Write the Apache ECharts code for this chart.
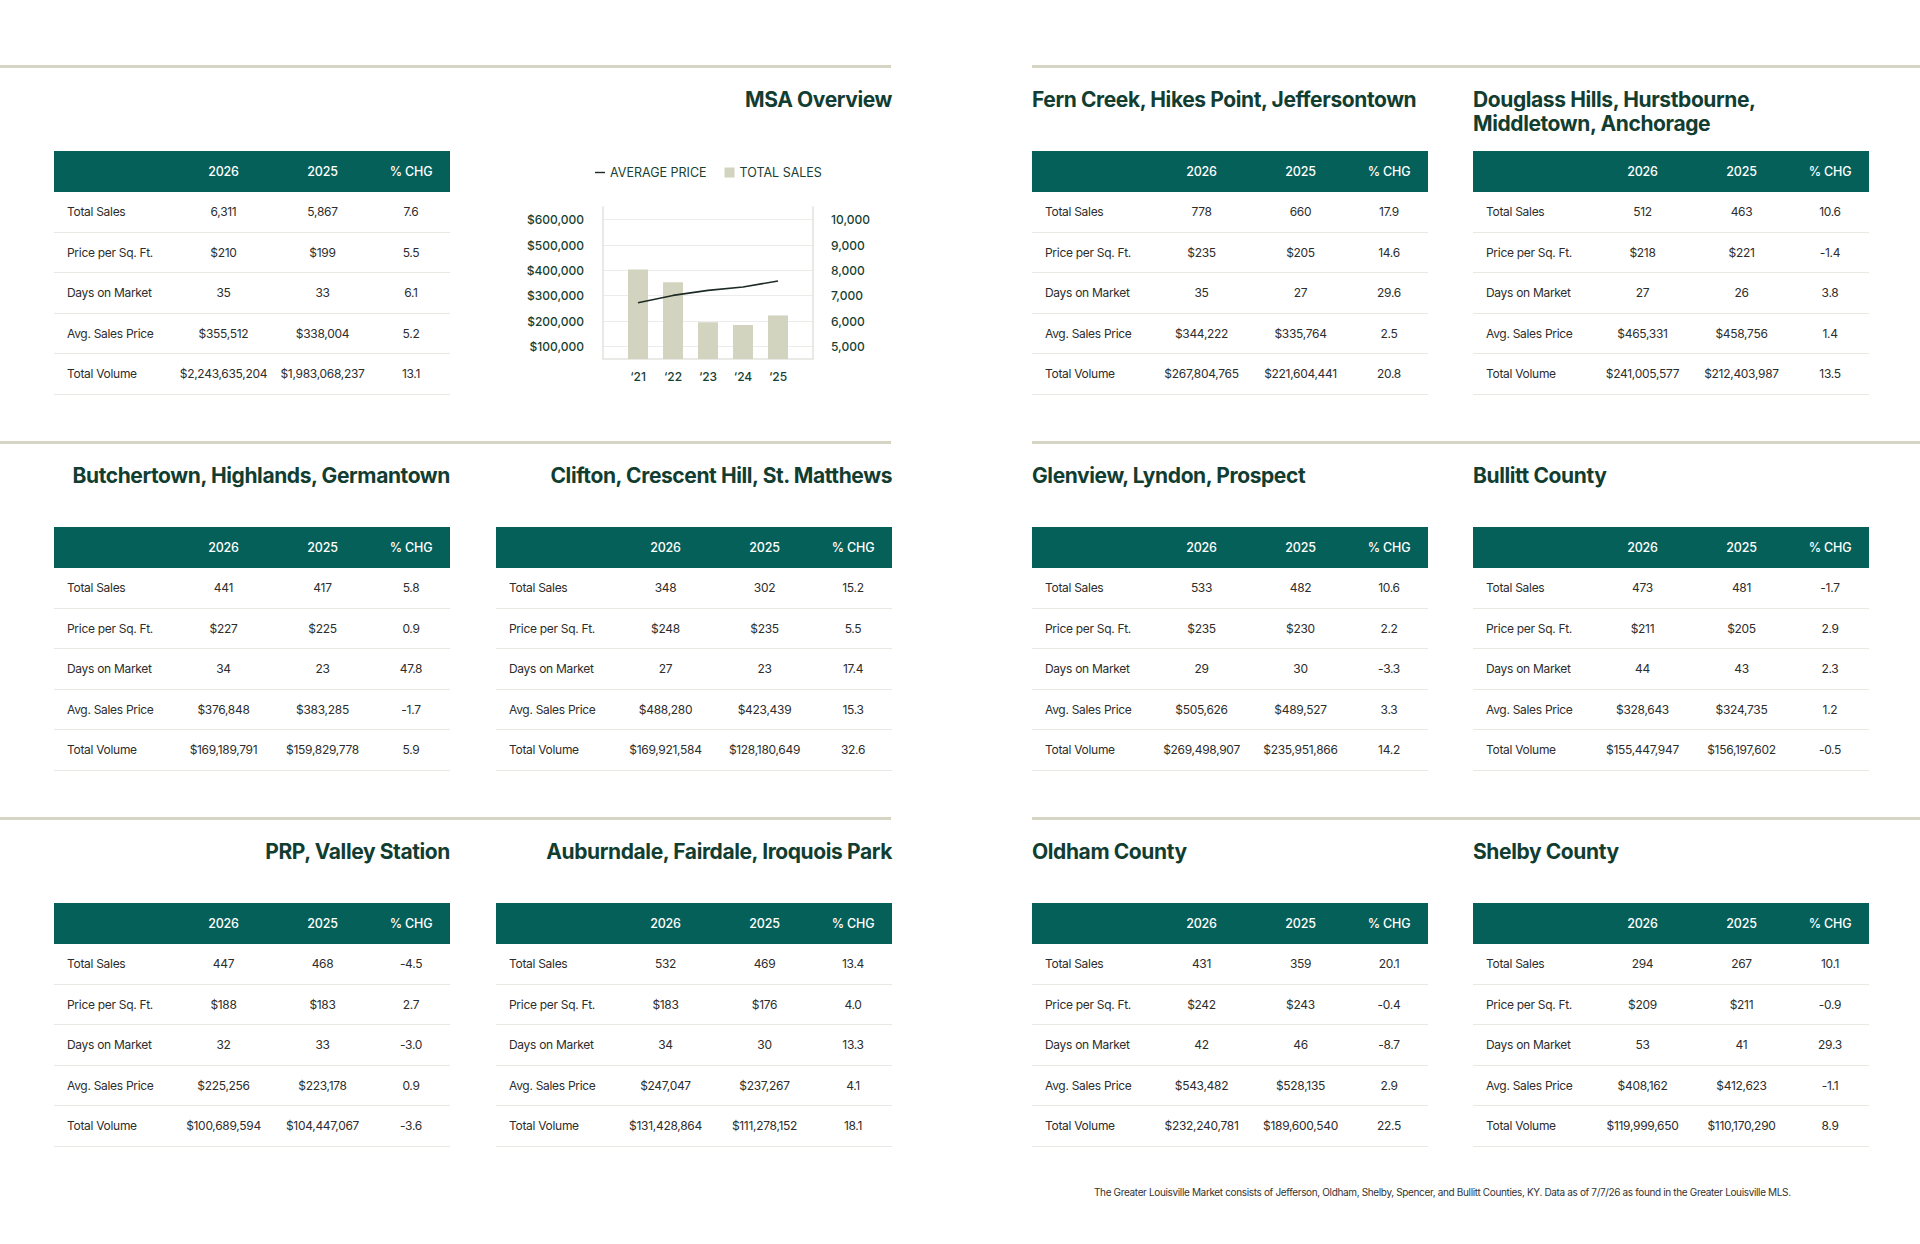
<!DOCTYPE html>
<html>
<head>
<meta charset="utf-8">
<title>Greater Louisville Market</title>
<script src="https://cdn.jsdelivr.net/npm/echarts@6/dist/echarts.min.js"></script>
<style>
  html, body { margin: 0; padding: 0; background: #fff; }
  body { width: 1920px; height: 1244px; position: relative; overflow: hidden; font-family: Inter, "Noto Sans", sans-serif; }
  .rule { position: absolute; height: 3px; background: #d6d5c3; }
  .title { position: absolute; width: 396px; font-size: 21px; font-weight: 700; line-height: 24px; color: #123d31; letter-spacing: -0.4px; white-space: nowrap; }
  .tbl { position: absolute; width: 396px; }
  .tbl table { width: 100%; border-collapse: separate; border-spacing: 0; table-layout: fixed; }
  .tbl th { background: #05605a; color: #fff; font-weight: 500; font-size: 12.5px; height: 41px; padding: 0; text-align: center; letter-spacing: -0.2px; }
  .tbl td { height: 39.5px; border-bottom: 1.5px solid #e9e9e4; font-size: 12px; color: #2d2d2d; text-align: center; padding: 0; letter-spacing: -0.3px; white-space: nowrap; }
  .tbl td.lbl { text-align: left; padding-left: 13px; }
  #chart { position: absolute; left: 480px; top: 140px; width: 420px; height: 260px; }
  .foot { position: absolute; left: 1094px; top: 1186px; font-size: 10px; color: #333; letter-spacing: -0.35px; white-space: nowrap; }
</style>
</head>
<body>
<div id="chart"></div>
<script>
// table rows / columns
const rowLabels = ['Total Sales', 'Price per Sq. Ft.', 'Days on Market', 'Avg. Sales Price', 'Total Volume'];
const colHeads = ['2026', '2025', '% CHG'];

const msaOverview = [['6,311', '5,867', '7.6'], ['$210', '$199', '5.5'], ['35', '33', '6.1'], ['$355,512', '$338,004', '5.2'], ['$2,243,635,204', '$1,983,068,237', '13.1']];
const fernCreek = [['778', '660', '17.9'], ['$235', '$205', '14.6'], ['35', '27', '29.6'], ['$344,222', '$335,764', '2.5'], ['$267,804,765', '$221,604,441', '20.8']];
const douglassHills = [['512', '463', '10.6'], ['$218', '$221', '-1.4'], ['27', '26', '3.8'], ['$465,331', '$458,756', '1.4'], ['$241,005,577', '$212,403,987', '13.5']];
const butchertown = [['441', '417', '5.8'], ['$227', '$225', '0.9'], ['34', '23', '47.8'], ['$376,848', '$383,285', '-1.7'], ['$169,189,791', '$159,829,778', '5.9']];
const clifton = [['348', '302', '15.2'], ['$248', '$235', '5.5'], ['27', '23', '17.4'], ['$488,280', '$423,439', '15.3'], ['$169,921,584', '$128,180,649', '32.6']];
const glenview = [['533', '482', '10.6'], ['$235', '$230', '2.2'], ['29', '30', '-3.3'], ['$505,626', '$489,527', '3.3'], ['$269,498,907', '$235,951,866', '14.2']];
const bullitt = [['473', '481', '-1.7'], ['$211', '$205', '2.9'], ['44', '43', '2.3'], ['$328,643', '$324,735', '1.2'], ['$155,447,947', '$156,197,602', '-0.5']];
const prpValley = [['447', '468', '-4.5'], ['$188', '$183', '2.7'], ['32', '33', '-3.0'], ['$225,256', '$223,178', '0.9'], ['$100,689,594', '$104,447,067', '-3.6']];
const auburndale = [['532', '469', '13.4'], ['$183', '$176', '4.0'], ['34', '30', '13.3'], ['$247,047', '$237,267', '4.1'], ['$131,428,864', '$111,278,152', '18.1']];
const oldham = [['431', '359', '20.1'], ['$242', '$243', '-0.4'], ['42', '46', '-8.7'], ['$543,482', '$528,135', '2.9'], ['$232,240,781', '$189,600,540', '22.5']];
const shelby = [['294', '267', '10.1'], ['$209', '$211', '-0.9'], ['53', '41', '29.3'], ['$408,162', '$412,623', '-1.1'], ['$119,999,650', '$110,170,290', '8.9']];

// MSA chart
const chartYears = [2021, 2022, 2023, 2024, 2025];
const yearLabels = ['\u201821', '\u201822', '\u201823', '\u201824', '\u201825'];
const totalSales = [8030, 7530, 5950, 5840, 6220];
const averagePrice = [272000, 301000, 321000, 334000, 358000];
const priceTicks = [100000, 200000, 300000, 400000, 500000, 600000];
const salesTicks = [5000, 6000, 7000, 8000, 9000, 10000];

const footNote = 'The Greater Louisville Market consists of Jefferson, Oldham, Shelby, Spencer, and Bullitt Counties, KY. Data as of 7/7/26 as found in the Greater Louisville MLS.';

// layout
const colX = [54, 496, 1032, 1473];
const bandY = [0, 376, 752];

const panels = [
  { title: null, rows: msaOverview, col: 0, band: 0 },
  { title: ['Fern Creek, Hikes Point, Jeffersontown'], rows: fernCreek, col: 2, band: 0, align: 'left' },
  { title: ['Douglass Hills, Hurstbourne,', 'Middletown, Anchorage'], rows: douglassHills, col: 3, band: 0, align: 'left' },
  { title: ['Butchertown, Highlands, Germantown'], rows: butchertown, col: 0, band: 1, align: 'right' },
  { title: ['Clifton, Crescent Hill, St. Matthews'], rows: clifton, col: 1, band: 1, align: 'right' },
  { title: ['Glenview, Lyndon, Prospect'], rows: glenview, col: 2, band: 1, align: 'left' },
  { title: ['Bullitt County'], rows: bullitt, col: 3, band: 1, align: 'left' },
  { title: ['PRP, Valley Station'], rows: prpValley, col: 0, band: 2, align: 'right' },
  { title: ['Auburndale, Fairdale, Iroquois Park'], rows: auburndale, col: 1, band: 2, align: 'right' },
  { title: ['Oldham County'], rows: oldham, col: 2, band: 2, align: 'left' },
  { title: ['Shelby County'], rows: shelby, col: 3, band: 2, align: 'left' }
];

function addEl(cls, css, html) {
  const d = document.createElement('div');
  d.className = cls;
  Object.assign(d.style, css);
  if (html != null) d.innerHTML = html;
  document.body.appendChild(d);
  return d;
}

// rules
bandY.forEach(b => {
  addEl('rule', { left: '0px', top: (65 + b) + 'px', width: '891px' });
  addEl('rule', { left: '1032px', top: (65 + b) + 'px', width: '888px' });
});

// MSA title sits above the chart, right aligned
addEl('title', { left: colX[1] + 'px', top: '88px', textAlign: 'right' }, 'MSA Overview');

panels.forEach(p => {
  const x = colX[p.col], y = bandY[p.band];
  if (p.title) {
    addEl('title', { left: x + 'px', top: (88 + y) + 'px', textAlign: p.align }, p.title.join('<br>'));
  }
  let h = '<table><colgroup><col style="width:120px"><col style="width:99px"><col style="width:99px"><col></colgroup>';
  h += '<tr><th></th>' + colHeads.map(c => '<th>' + c + '</th>').join('') + '</tr>';
  p.rows.forEach((r, i) => {
    h += '<tr><td class="lbl">' + rowLabels[i] + '</td>' + r.map(v => '<td>' + v + '</td>').join('') + '</tr>';
  });
  h += '</table>';
  addEl('tbl', { left: x + 'px', top: (151 + y) + 'px' }, h);
});

addEl('foot', {}, footNote);

// chart
const myChart = echarts.init(document.getElementById('chart'), null, { renderer: 'svg' });
const axisCol = '#e2e2de';
const labelStyle = { color: '#173f33', fontSize: 12, fontWeight: 500, fontFamily: 'Inter' };

const option = {
  animation: false,
  legend: {
    left: 110,
    top: 21,
    itemWidth: 10,
    itemHeight: 10,
    itemGap: 18,
    textStyle: { color: '#173f33', fontSize: 12.5, fontFamily: 'Inter' },
    data: [
      { name: 'AVERAGE PRICE', icon: 'path://M0,0M0,4.3H10V5.7H0ZM10,10' },
      { name: 'TOTAL SALES', icon: 'rect' }
    ]
  },
  grid: { left: 123, top: 67, width: 210, height: 152 },
  xAxis: {
    type: 'value',
    min: 2020,
    max: 2026,
    interval: 1,
    splitLine: { show: false },
    axisTick: { show: false },
    axisLine: { show: true, lineStyle: { color: axisCol, width: 1.5 } },
    axisLabel: Object.assign({
      margin: 11,
      formatter: v => {
        const i = chartYears.indexOf(v);
        return i >= 0 ? yearLabels[i] : '';
      }
    }, labelStyle)
  },
  yAxis: [
    {
      type: 'value',
      min: 50000,
      max: 650000,
      interval: 50000,
      axisTick: { show: false },
      axisLine: { show: true, lineStyle: { color: axisCol, width: 1.5 } },
      splitLine: { show: true, lineStyle: { color: ['rgba(0,0,0,0)', '#ececea'], width: 1 } },
      axisLabel: Object.assign({
        margin: 19,
        formatter: v => priceTicks.includes(v) ? '$' + v.toLocaleString('en-US') : ''
      }, labelStyle)
    },
    {
      type: 'value',
      min: 4500,
      max: 10500,
      interval: 500,
      position: 'right',
      axisTick: { show: false },
      axisLine: { show: true, lineStyle: { color: axisCol, width: 1.5 } },
      splitLine: { show: false },
      axisLabel: Object.assign({
        margin: 18,
        formatter: v => salesTicks.includes(v) ? v.toLocaleString('en-US') : ''
      }, labelStyle)
    }
  ],
  series: [
    {
      name: 'TOTAL SALES',
      type: 'bar',
      yAxisIndex: 1,
      barWidth: 20,
      clip: true,
      itemStyle: { color: '#d3d4bf' },
      data: chartYears.map((y, i) => [y, totalSales[i]])
    },
    {
      name: 'AVERAGE PRICE',
      type: 'line',
      yAxisIndex: 0,
      symbol: 'none',
      lineStyle: { color: '#1d2b25', width: 1.6 },
      itemStyle: { color: '#1d2b25' },
      data: chartYears.map((y, i) => [y, averagePrice[i]])
    }
  ]
};
myChart.setOption(option);
window.addEventListener('resize', () => {
  myChart.resize();
});
</script>
</body>
</html>
